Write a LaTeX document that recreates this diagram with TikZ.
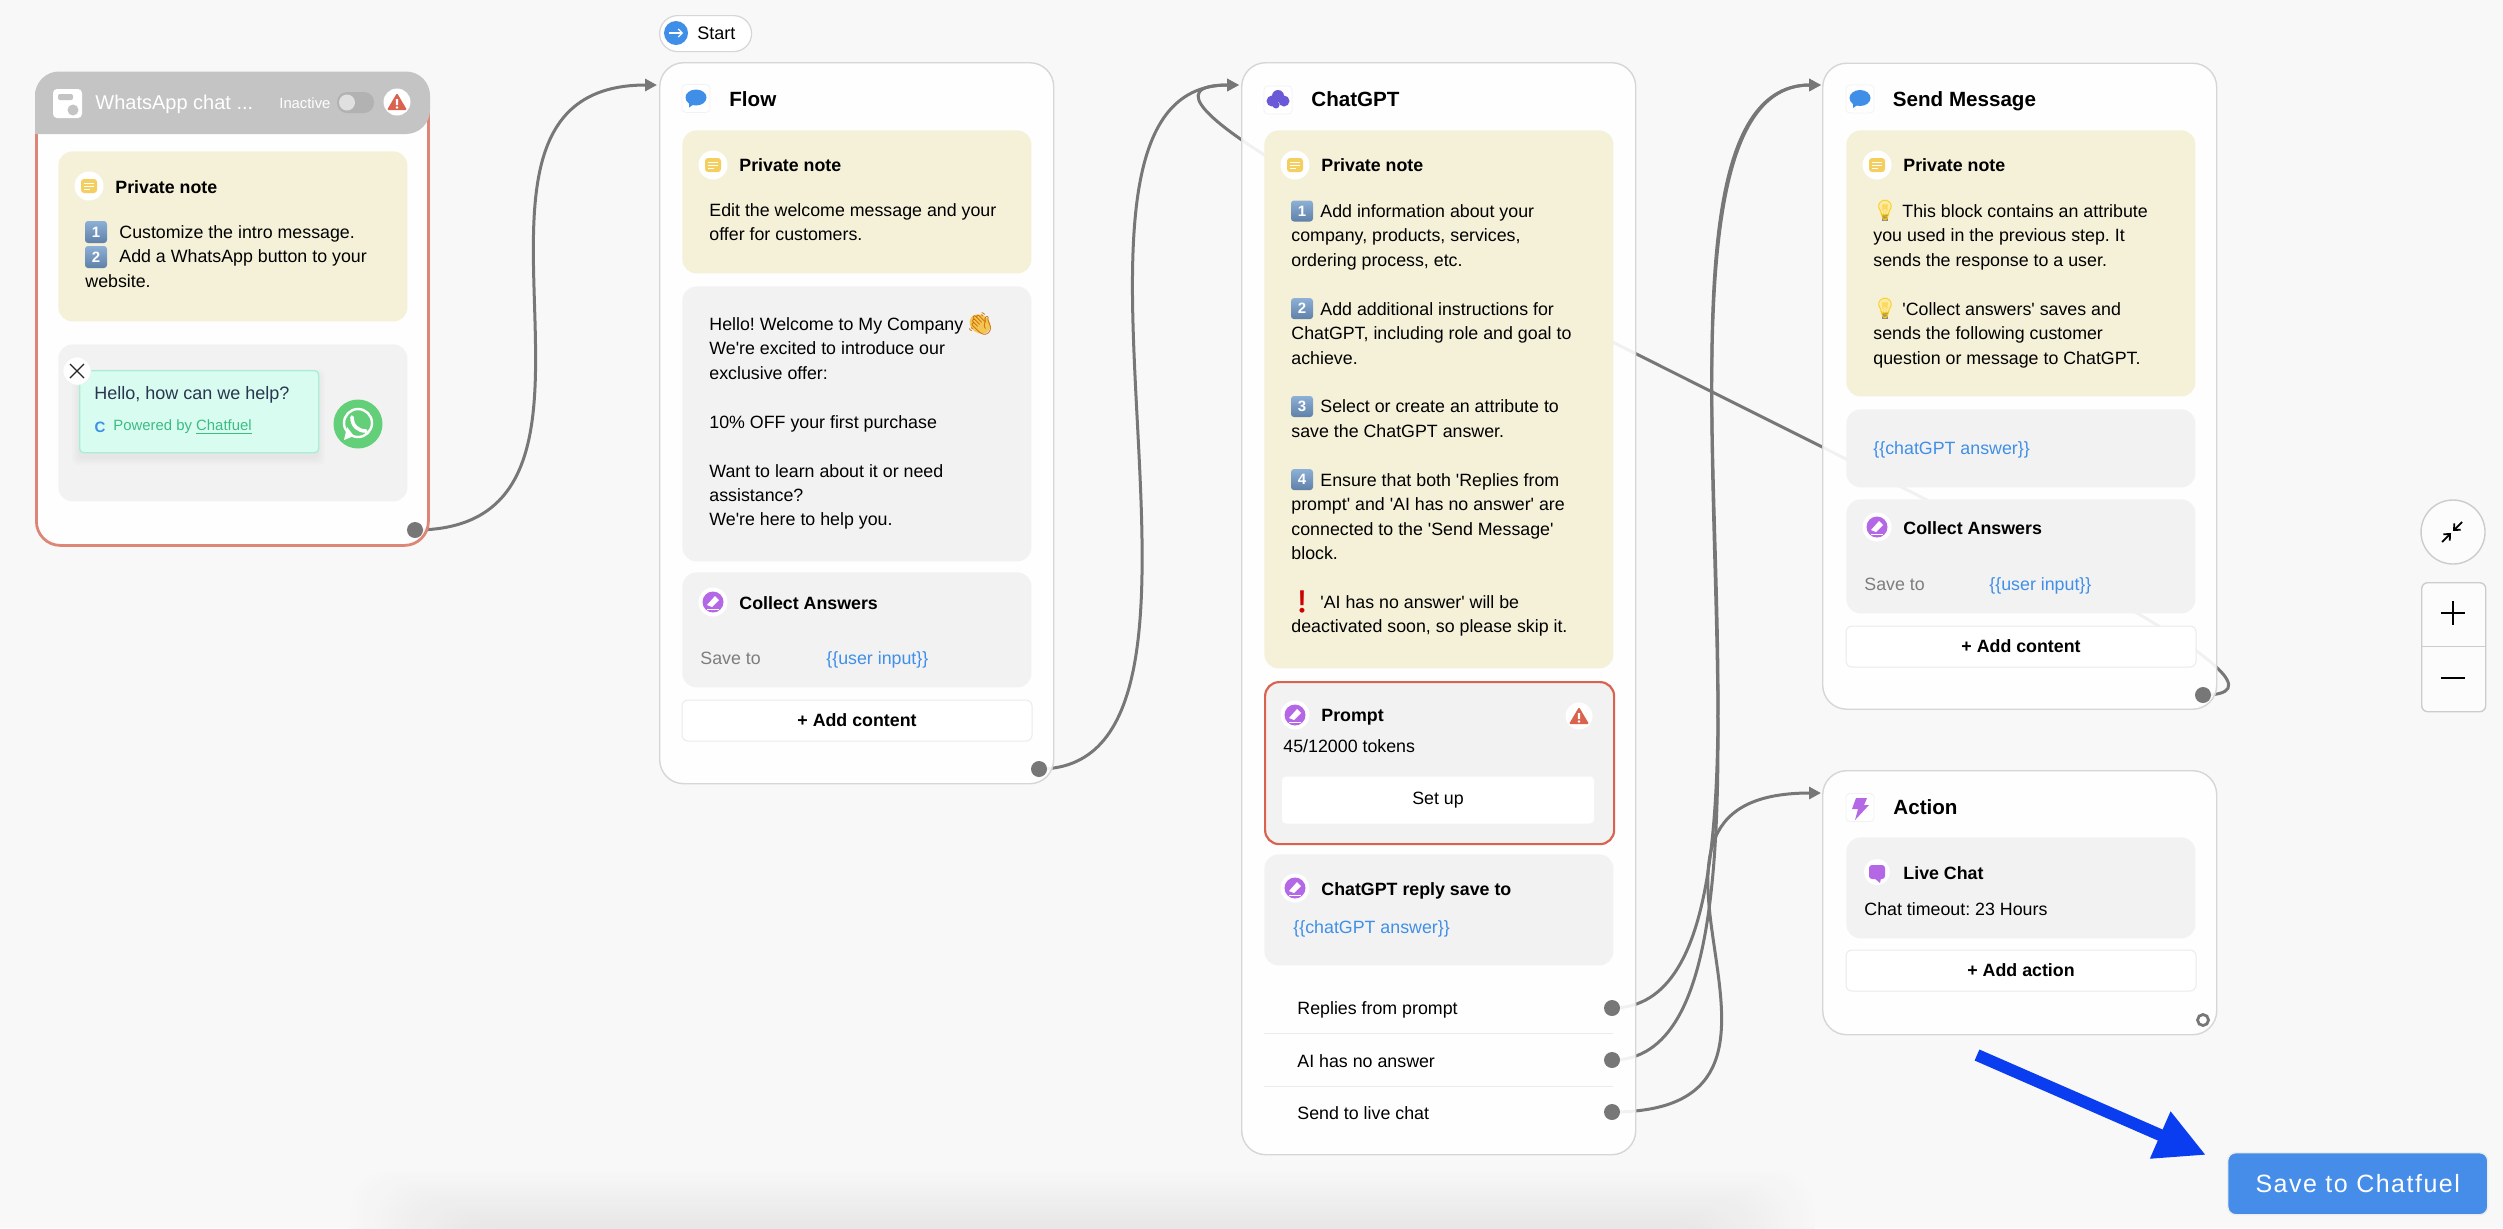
\documentclass[tikz,border=0pt]{standalone}
\usepackage{fontspec}
\usepackage{xcolor}
\setmainfont{Liberation Sans}
\newfontfamily\plainsans{Liberation Sans}
\newfontfamily\emojifont{Noto Emoji}
\newfontfamily\btnfont[LetterSpace=6]{Liberation Sans}
\usetikzlibrary{arrows.meta}
\pgfdeclarelayer{paper}
\pgfdeclarelayer{wires}
\pgfsetlayers{paper,wires,main}
\definecolor{canvas}{HTML}{F8F8F8}
\definecolor{cardline}{HTML}{D6D6D6}
\definecolor{notefill}{HTML}{F5F1D8}
\definecolor{grayfill}{HTML}{F2F2F2}
\definecolor{wirecol}{HTML}{777777}
\definecolor{alertred}{HTML}{D9634F}
\definecolor{softred}{HTML}{DD8678}
\definecolor{attrblue}{HTML}{3F8FE8}
\definecolor{penpurple}{HTML}{B468E6}
\definecolor{chatviolet}{HTML}{6A5AD8}
\definecolor{noteyellow}{HTML}{F4CF60}
\definecolor{headgray}{HTML}{C4C4C4}
\definecolor{savegray}{HTML}{7D7D7D}
\definecolor{arrowblue}{HTML}{0A3CF0}
\definecolor{savebtn}{HTML}{458DE8}
\definecolor{mintfill}{HTML}{D8FDF0}
\definecolor{mintline}{HTML}{AAEED5}
\definecolor{mintink}{HTML}{3DBB85}
\definecolor{inkblue}{HTML}{2A3550}
\definecolor{wagreen}{HTML}{63CF78}
\definecolor{kctop}{HTML}{8DB0D6}
\definecolor{kcbot}{HTML}{5F80A8}
\definecolor{waveyellow}{HTML}{F3C552}
\definecolor{bulbyellow}{HTML}{FBEBA8}

\begin{document}
\begin{tikzpicture}[x=0.5pt, y=-0.5pt, execute at begin picture={\plainsans\frenchspacing},
        % boxes
        card/.style={draw=cardline, line width=0.7pt, fill=white, fill opacity=.9, rounded corners=12pt,
            anchor=north west, inner sep=0pt, minimum width=197pt},
        notebox/.style={fill=notefill, rounded corners=7pt, anchor=north west, inner sep=0pt, minimum width=174.5pt},
        graybox/.style={fill=grayfill, rounded corners=7pt, anchor=north west, inner sep=0pt, minimum width=174.5pt},
        addbox/.style={draw=black!8, line width=0.5pt, fill=white, rounded corners=3pt, inner sep=0pt,
            minimum width=175pt, minimum height=20.5pt, font=\fontsize{8.9}{12}\selectfont\bfseries},
        % texts
        lbl/.style={anchor=west, inner sep=0pt, text height=8.25pt, text depth=1.75pt, font=\fontsize{8.9}{12.22}\selectfont},
        head/.style={lbl, font=\fontsize{8.9}{12.22}\selectfont\bfseries},
        title/.style={anchor=west, inner sep=0pt, text height=9.4pt, text depth=2pt, font=\fontsize{10.3}{12}\selectfont\bfseries},
        para/.style={anchor=north west, inner sep=0pt, yshift=-0.7pt, align=left, font=\fontsize{8.9}{12.22}\selectfont},
        attr/.style={lbl, text=attrblue},
        savelbl/.style={lbl, text=savegray},
        keycap/.style={rounded corners=1.5pt, top color=kctop, bottom color=kcbot, minimum size=11pt, inner sep=0pt,
            text=white, font=\fontsize{7.5}{8}\selectfont\bfseries},
        glyph/.style={inner sep=0pt, font=\emojifont\fontsize{10}{10}\selectfont},
        % ports and connectors
        port/.style={circle, fill=wirecol, minimum size=8pt, inner sep=0pt},
        wire/.style={draw=wirecol, line width=1.5pt, -{Triangle[length=6pt,width=6pt]}},
        % small icons
        noteicon/.pic={\fill[white] (0,0) circle (14.5);
            \fill[noteyellow, rounded corners=1.5pt] (-8,-7) rectangle (8,7);
            \draw[white, line width=.5pt] (-5,-3) -- (5,-3) (-5,0) -- (5,0) (-5,3) -- (1,3);},
        penicon/.pic={\fill[white] (0,0) circle (14.5);
            \fill[penpurple] (0,0) circle (10.5);
            \fill[white] (-6,3) -- (2,-6) -- (6,-2) -- (-1,5) -- cycle;
            \draw[white, line width=.5pt] (-6,7) -- (6,7);},
        warnicon/.pic={\fill[white] (0,0) circle (13.5);
            \fill[alertred, rounded corners=.6pt] (0,-9) -- (10,8) -- (-10,8) -- cycle;
            \fill[white] (-1.2,-3) rectangle (1.2,3) (0,5.5) circle (1.3);},
        squareicon/.pic={\draw[black!5, fill=white, line width=.4pt, rounded corners=2pt] (-14,-14) rectangle (14,14);},
        bubbleicon/.pic={\pic {squareicon};
            \fill[attrblue] (0,-1) ellipse (10.5 and 8);
            \fill[attrblue] (-7,3) -- (-7,9) -- (-1,5) -- cycle;},
        bulbicon/.pic={\fill[bulbyellow] (0,-4) ellipse (7 and 8);
            \fill[black!45] (-3,4) rectangle (3,10);}
    ]
    \useasboundingbox (0,0) rectangle (2503,1228);
    \begin{pgfonlayer}{paper}
        \fill[canvas] (0,0) rectangle (2503,1228);
        \begin{scope}
            \clip (0,0) rectangle (2503,1228);
            \foreach \s [evaluate=\s as \p using 0.35*\s] in {1,...,20}
                \fill[black!\p!canvas, rounded corners=20pt] (345+6*\s,1167+3*\s) rectangle (1820-6*\s,1320);
        \end{scope}
    \end{pgfonlayer}

    % WhatsApp entry point
    \node[card, draw=softred, line width=1.4pt, minimum width=196pt, minimum height=236pt] (wacard) at (35,72) {};
    \fill[headgray, rounded corners=12pt] (35,134) -- (35,71.5) -- (430,71.5) -- (430,134) [sharp corners] -- cycle;
    \fill[white, rounded corners=2pt] (53,89) rectangle (82,118);
    \fill[headgray, rounded corners=1pt] (58,94) rectangle (73,100);
    \fill[headgray] (73,110) circle (5.5);
    \node[anchor=west, inner sep=0pt, text=white, text height=8.5pt, text depth=2pt, font=\fontsize{10}{12}\selectfont] (watitle) at (95,103) {WhatsApp chat ...};
    \node[anchor=west, inner sep=0pt, text=white, font=\fontsize{7.4}{9}\selectfont] (wastate) at (279,103) {Inactive};
    \fill[black!30, rounded corners=5pt] (337,92) rectangle (374,113);
    \fill[black!12] (347,102.5) circle (8);
    \pic at (397,102) {warnicon};
    \node[notebox, minimum height=85pt] (wanote) at (58,151) {};
    \pic at (89,186) {noteicon};
    \node[head] (wanotehead) at (115,187) {Private note};
    \node[keycap] (wakeyone) at (96,232) {1};
    \node[keycap] (wakeytwo) at (96,257) {2};
    \node[para] (wanotetext) at (85,219.5) {\strut\hspace*{17pt}Customize the intro message.\\\strut\hspace*{17pt}Add a WhatsApp button to your\\\strut website.};
    \node[graybox, minimum height=78.5pt] (wawidget) at (58,344) {};
    \foreach \s in {1,3,5,7}
        \fill[black, opacity=.012, rounded corners=3pt] (79-\s,376-\s) rectangle (318+\s,458+\s);
    \node[draw=mintline, line width=.7pt, fill=mintfill, rounded corners=2pt, anchor=north west, inner sep=0pt, minimum width=119.5pt, minimum height=41pt] (wabubble) at (79,370) {};
    \node[lbl, text=inkblue, font=\fontsize{9}{12}\selectfont] (wahello) at (94,393) {Hello, how can we help?};
    \node[anchor=center, inner sep=0pt, text=attrblue, font=\fontsize{7.5}{9}\selectfont\bfseries] (wac) at (100,427) {C};
    \node[anchor=west, inner sep=0pt, text=mintink, font=\fontsize{7.45}{9}\selectfont] (wapowered) at (113,427) {Powered by \underline{Chatfuel}};
    \node[circle, fill=white, minimum size=14pt, inner sep=0pt, draw=black!6, line width=.3pt] (waclose) at (77,371) {};
    \draw[black!85, line width=.6pt] (70,364) -- (84,378) (84,364) -- (70,378);
    \node[circle, fill=wagreen, minimum size=24.5pt, inner sep=0pt] (walogo) at (358,424) {};
    \draw[white, line width=1.2pt] (358,423) circle (14);
    \fill[white] (344,440) -- (347,427) -- (354,436) -- cycle;
    \draw[white, line width=1.8pt, line cap=round] (352,417) .. controls (352,426) and (358,431) .. (366,431);
    \node[port] (waport) at (415,530) {};

    % start marker and first block
    \node[draw=cardline, line width=.6pt, fill=white, rounded corners=9pt, anchor=north west, inner sep=0pt, minimum width=46pt, minimum height=18pt] (startpill) at (659,15) {};
    \node[circle, fill=attrblue, minimum size=12pt, inner sep=0pt] (startdot) at (676,33) {};
    \draw[white, line width=.6pt, -{Straight Barb[length=2pt,width=4pt]}] (669,33) -- (683,33);
    \node[lbl, font=\fontsize{9}{12}\selectfont] (startlbl) at (697,33) {Start};

    \node[card, minimum height=360.5pt] (flowcard) at (659,62) {};
    \pic at (696,98.5) {bubbleicon};
    \node[title] (flowtitle) at (729,99.5) {Flow};
    \node[notebox, minimum height=71.5pt] (flownote) at (682,130) {};
    \pic at (713,165) {noteicon};
    \node[head] (flownotehead) at (739,165) {Private note};
    \node[para] (flownotetext) at (709,197.5) {\strut Edit the welcome message and your\\\strut offer for customers.};
    \node[graybox, minimum height=137.5pt] (flowmsg) at (682,286) {};
    \node[para] (flowmsgtext) at (709,311.5) {\strut Hello! Welcome to My Company\\\strut We're excited to introduce our\\\strut exclusive offer:\\[12.22pt]\strut 10\% OFF your first purchase\\[12.22pt]\strut Want to learn about it or need\\\strut assistance?\\\strut We're here to help you.};
    \fill[waveyellow, rotate around={-35:(980,324)}] (980,324) ellipse (11 and 9);
    \node[glyph, text=orange!80!black, font=\emojifont\fontsize{11}{11}\selectfont] (flowwave) at (980,324) {👋};
    \node[graybox, minimum height=57.5pt] (flowcollect) at (682,572) {};
    \pic at (713,602) {penicon};
    \node[head] (flowcollecthead) at (739,602.5) {Collect Answers};
    \node[savelbl] (flowsave) at (700,658) {Save to};
    \node[attr] (flowuser) at (826,658) {\{\{user input\}\}};
    \node[addbox] (flowadd) at (857,720.5) {+ Add content};
    \node[port] (flowport) at (1039,769) {};

    % ChatGPT block
    \node[card, minimum height=546pt] (chatcard) at (1241,62) {};
    \pic at (1278,100) {squareicon};
    \fill[chatviolet] (1278,96) circle (6) (1272,101) circle (5.5) (1284,101) circle (5.5) (1276,105) circle (3.5);
    \node[title] (chattitle) at (1311,99.5) {ChatGPT};
    \node[notebox, minimum height=269pt] (chatnote) at (1264,130) {};
    \pic at (1295,165) {noteicon};
    \node[head] (chatnotehead) at (1321,165) {Private note};
    \foreach \y/\d/\n in {211/1/one, 308.6/2/two, 406.5/3/three, 479.6/4/four}
        \node[keycap, minimum width=11pt, minimum height=10.5pt] (chatkey\n) at (1302,\y) {\d};
    \node[glyph, text=red!80!black, font=\emojifont\fontsize{11}{11}\selectfont] (chatalert) at (1302,602) {❗};
    \node[para] (chatnotetext) at (1291,198.5) {\strut\hspace*{14.5pt}Add information about your\\\strut company, products, services,\\\strut ordering process, etc.\\[12.22pt]\strut\hspace*{14.5pt}Add additional instructions for\\\strut ChatGPT, including role and goal to\\\strut achieve.\\[12.22pt]\strut\hspace*{14.5pt}Select or create an attribute to\\\strut save the ChatGPT answer.\\[12.22pt]\strut\hspace*{14.5pt}Ensure that both 'Replies from\\\strut prompt' and 'AI has no answer' are\\\strut connected to the 'Send Message'\\\strut block.\\[12.22pt]\strut\hspace*{14.5pt}'AI has no answer' will be\\\strut deactivated soon, so please skip it.};
    \node[draw=alertred, line width=1.1pt, fill=grayfill, rounded corners=7pt, anchor=north west, inner sep=0pt, minimum width=174.5pt, minimum height=81pt] (chatprompt) at (1264,681) {};
    \pic at (1295,715) {penicon};
    \node[head] (chatprompthead) at (1321,715) {Prompt};
    \pic at (1579,716) {warnicon};
    \node[lbl] (chattokens) at (1283,745.5) {45/12000 tokens};
    \node[fill=white, rounded corners=2pt, inner sep=0pt, minimum width=156pt, minimum height=23.5pt, font=\fontsize{8.9}{12}\selectfont] (chatsetup) at (1438,800) {Set up};
    \node[graybox, minimum height=55.5pt] (chatreply) at (1264,854) {};
    \pic at (1295,888) {penicon};
    \node[head] (chatreplyhead) at (1321,889) {ChatGPT reply save to};
    \node[attr] (chatanswer) at (1293,927) {\{\{chatGPT answer\}\}};
    \node[lbl] (chatrowa) at (1297,1008) {Replies from prompt};
    \node[lbl] (chatrowb) at (1297,1061) {AI has no answer};
    \node[lbl] (chatrowc) at (1297,1112.5) {Send to live chat};
    \draw[black!8, line width=.5pt] (1264,1033) -- (1613,1033) (1264,1086) -- (1613,1086);
    \node[port] (chatporta) at (1612,1008) {};
    \node[port] (chatportb) at (1612,1060) {};
    \node[port] (chatportc) at (1612,1112) {};

    % Send Message block
    \node[card, minimum height=323pt] (sendcard) at (1822,62.5) {};
    \pic at (1860,99) {bubbleicon};
    \node[title] (sendtitle) at (1892.5,99.5) {Send Message};
    \node[notebox, minimum height=133pt] (sendnote) at (1846,130) {};
    \pic at (1877,165) {noteicon};
    \node[head] (sendnotehead) at (1903,165) {Private note};
    \pic at (1885,211) {bulbicon};
    \pic at (1885,309) {bulbicon};
    \node[glyph, text=yellow!60!orange] (sendbulba) at (1885,211) {💡};
    \node[glyph, text=yellow!60!orange] (sendbulbb) at (1885,309) {💡};
    \node[para] (sendnotetext) at (1873,198.5) {\strut\hspace*{14.5pt}This block contains an attribute\\\strut you used in the previous step. It\\\strut sends the response to a user.\\[12.22pt]\strut\hspace*{14.5pt}'Collect answers' saves and\\\strut sends the following customer\\\strut question or message to ChatGPT.};
    \node[graybox, minimum height=39pt] (sendmsg) at (1846,409) {};
    \node[attr] (sendanswer) at (1873,448) {\{\{chatGPT answer\}\}};
    \node[graybox, minimum height=57pt] (sendcollect) at (1846,499) {};
    \pic at (1877,527) {penicon};
    \node[head] (sendcollecthead) at (1903,528) {Collect Answers};
    \node[savelbl] (sendsave) at (1864,584) {Save to};
    \node[attr] (senduser) at (1989,584) {\{\{user input\}\}};
    \node[addbox] (sendadd) at (2021,646.5) {+ Add content};
    \node[port] (sendport) at (2203,695) {};

    % Action block
    \node[card, minimum height=132pt] (actioncard) at (1822,770) {};
    \pic at (1860,807.5) {squareicon};
    \fill[penpurple] (1856,798) -- (1867,798) -- (1864,805) -- (1869,805) -- (1855,820) -- (1858,809) -- (1852,809) -- cycle;
    \node[title] (actiontitle) at (1893,807) {Action};
    \node[graybox, minimum height=50.5pt] (actionbox) at (1846,837) {};
    \fill[white] (1877,872) circle (13);
    \fill[penpurple, rounded corners=1.5pt] (1869,865) rectangle (1885,879);
    \fill[penpurple] (1874,878) -- (1881,878) -- (1880,883) -- cycle;
    \node[head] (actionhead) at (1903,873) {Live Chat};
    \node[lbl] (actiontimeout) at (1864,909) {Chat timeout: 23 Hours};
    \node[addbox] (actionadd) at (2021,970.5) {+ Add action};
    \node[circle, draw=wirecol, line width=1.4pt, fill=white, minimum size=5.5pt, inner sep=0pt] (actionport) at (2203,1020) {};

    % inlets, where the arrow tips stop
    \coordinate (flowin) at (657,85);
    \coordinate (chatin) at (1239,85);
    \coordinate (sendin) at (1821,85);
    \coordinate (actionin) at (1821,793);

    \begin{pgfonlayer}{wires}
        \draw[wire] (waport.center) .. controls +(250,0) and +(-250,0) .. (flowin);
        \draw[wire] (flowport.center) .. controls +(230,0) and +(-230,0) .. (chatin);
        \draw[wire] (sendport.center) .. controls +(235,0) and +(-265,0) .. (chatin);
        \draw[wire] (chatporta.center) .. controls +(230,0) and +(-230,0) .. (sendin);
        \draw[wire] (chatportb.center) .. controls +(230,0) and +(-230,0) .. (sendin);
        \draw[wire] (chatportc.center) .. controls +(250,0) and +(-250,0) .. (actionin);
    \end{pgfonlayer}

    % zoom controls
    \node[circle, draw=black!20, line width=.7pt, fill=white!60!canvas, minimum size=32pt, inner sep=0pt] (fitbtn) at (2453,532) {};
    \draw[black, line width=.9pt, -{Straight Barb[length=2.5pt,width=4.5pt]}] (2462,522) -- (2453,531);
    \draw[black, line width=.9pt, -{Straight Barb[length=2.5pt,width=4.5pt]}] (2442,542) -- (2451,533);
    \node[draw=black!20, line width=.7pt, fill=white!60!canvas, rounded corners=3pt, anchor=north west, inner sep=0pt, minimum width=32pt, minimum height=64.5pt] (zoombtn) at (2421,582) {};
    \draw[black!20, line width=.5pt] (2421,646) -- (2485,646);
    \draw[black, line width=.9pt] (2441,613) -- (2465,613) (2453,601) -- (2453,625);
    \draw[black, line width=.9pt] (2441,678) -- (2465,678);

    % save button and the arrow pointing at it
    \node[draw=black!7, line width=.7pt, fill=savebtn, rounded corners=4pt, anchor=north west, inner sep=0pt, minimum width=130pt, minimum height=31pt,
        text=white, font=\btnfont\fontsize{12.5}{14}\selectfont] (savebutton) at (2227,1152) {Save to Chatfuel};
    \coordinate (pointfrom) at (1977,1055);
    \coordinate (pointto) at (2206,1155);
    \draw[arrowblue, line width=6pt, -{Triangle[length=25pt,width=24pt]}] (pointfrom) -- (pointto);
\end{tikzpicture}
\end{document}
